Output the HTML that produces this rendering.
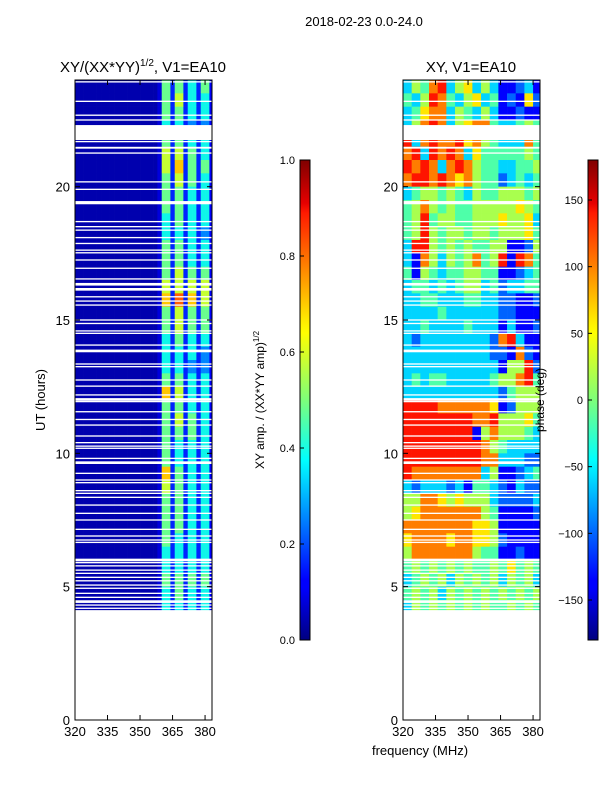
<!DOCTYPE html>
<html><head><meta charset="utf-8"><style>
body{margin:0;background:#fff;width:600px;height:800px;overflow:hidden}
svg{display:block;font-family:"Liberation Sans","DejaVu Sans",sans-serif}
</style></head><body>
<svg id="fig" width="600" height="800" viewBox="0 0 600 800">
<defs>
<linearGradient id="jetg" x1="0" y1="1" x2="0" y2="0">
<stop offset="0" stop-color="#000080"/><stop offset="0.11" stop-color="#0000ff"/><stop offset="0.125" stop-color="#0000ff"/>
<stop offset="0.34" stop-color="#00ddff"/><stop offset="0.375" stop-color="#00ffff"/><stop offset="0.5" stop-color="#7dff7a"/>
<stop offset="0.64" stop-color="#ffff00"/><stop offset="0.66" stop-color="#fff000"/><stop offset="0.89" stop-color="#ff1a00"/>
<stop offset="0.91" stop-color="#e60000"/><stop offset="1" stop-color="#800000"/>
</linearGradient>
<clipPath id="clipL"><rect x="75" y="80" width="137" height="640"/></clipPath>
<clipPath id="clipR"><rect x="403" y="80" width="137" height="640"/></clipPath>
</defs>
<text x="364" y="26" font-size="13" text-anchor="middle">2018-02-23 0.0-24.0</text>
<text x="143" y="72" font-size="15" text-anchor="middle">XY/(XX*YY)<tspan font-size="10" dy="-6">1/2</tspan><tspan dy="6">, V1=EA10</tspan></text>
<text x="471" y="72" font-size="15" text-anchor="middle">XY, V1=EA10</text>
<g id="heatL" clip-path="url(#clipL)"></g>
<g id="heatR" clip-path="url(#clipR)"></g>
<g id="axesL"></g>
<g id="axesR"></g>
<text transform="translate(45,400) rotate(-90)" font-size="13" text-anchor="middle">UT (hours)</text>
<text x="420" y="755" font-size="13" text-anchor="middle">frequency (MHz)</text>
<rect x="300" y="160" width="10" height="480" fill="url(#jetg)" stroke="#000" stroke-width="1"/>
<rect x="588" y="160" width="10" height="480" fill="url(#jetg)" stroke="#000" stroke-width="1"/>
<g id="cb1"></g>
<g id="cb2"></g>
<text transform="translate(264,400) rotate(-90)" font-size="12" text-anchor="middle">XY amp. / (XX*YY amp)<tspan font-size="8" dy="-5">1/2</tspan></text>
<text transform="translate(544,400) rotate(-90)" font-size="12" text-anchor="middle">phase (deg)</text>
</svg>
<script>
const NS="http://www.w3.org/2000/svg";
const xTicks=[320,335,350,365,380];
const yTicks=[0,5,10,15,20];
const cb1Ticks=[0.0,0.2,0.4,0.6,0.8,1.0];
const cb2Ticks=[-150,-100,-50,0,50,100,150];
const rowTop=[24,23.5,23,22.5,22,21.5,21,20.5,20,19.5,19,18.5,18,17.5,17,16.5,16,15.5,15,14.5,14,13.5,13,12.5,12,11.5,11,10.5,10,9.5,9,8.5,8,7.5,7,6.5,6,5.5,5,4.5];
// amplitude band levels (digits 0-9 => value ~d/9) per row: band A,B,C,D
const ampBands=["5545","5644","5544","4433","5544","6654","6755","5654","5544","5544","4544","4443","5544","5544","5655","6666","7876","5655","5655","4544","4443","4433","5544","7644","5544","5654","5554","5444","5444","7544","6544","5544","5544","5544","5444","4444","4444","5555","4544","4444"];
// phase digits (0-9 => -180 + d*40 deg), 16 columns of 4 MHz
const phaseRows=["3547835635311231","4358743563412162","3467735435311211","3578735677433454","8378778675433374","7838787364444454","8787378754433445","7887876754423434","3455454354455545","4575454455555654","4584554455565563","4585455455455564","3885454544551125","3175354574581874","4154344554411234","3443434553423344","3344333443322112","3333433333322111","3343333433313112","3233333333278311","3333333333221721","3333333333315582","3434433333455784","3333333333324555","8888777777612555","8888888877855564","8888888815755543","8888888887543333","8888888887733322","8777777773511234","3233323144321322","5577656555322223","5677777775411112","7777777766511111","6777767766521111","5777777754411211","4545454544546454","3454535454535453","4545354545454545","3545454545445454"];
// flagged (blank) times: [center hour, width hour]
const flags=[[23.93,0.05],[23.2,0.05],[22.68,0.05],[22.5,0.05],[22.03,0.56],[21.69,0.05],[21.46,0.07],[21.26,0.05],[20.18,0.05],[19.9,0.05],[19.4,0.12],[18.69,0.05],[18.5,0.05],[18.37,0.05],[18.09,0.05],[17.87,0.05],[17.62,0.05],[17.52,0.05],[17.25,0.05],[16.94,0.05],[16.54,0.05],[16.34,0.1],[16.15,0.1],[15.87,0.05],[15.71,0.05],[15.56,0.05],[15.0,0.05],[14.87,0.05],[14.59,0.05],[14.5,0.05],[14.06,0.05],[13.84,0.1],[13.35,0.05],[13.25,0.05],[12.75,0.05],[12.52,0.05],[12.19,0.05],[12.02,0.1],[11.94,0.05],[11.56,0.05],[11.27,0.05],[11.06,0.05],[10.65,0.05],[10.4,0.05],[10.27,0.05],[10.19,0.05],[9.81,0.05],[9.65,0.1],[9.25,0.05],[9.0,0.05],[8.9,0.05],[8.6,0.05],[8.5,0.05],[8.35,0.05],[8.06,0.05],[7.75,0.05],[7.5,0.05],[7.15,0.05],[6.9,0.05],[6.75,0.05],[6.66,0.05],[6.0,0.1],[5.9,0.05],[5.78,0.05],[5.62,0.05],[5.5,0.05],[5.35,0.05],[5.22,0.05],[5.06,0.05],[4.94,0.05],[4.75,0.05],[4.6,0.05],[4.44,0.1],[4.31,0.05],[4.19,0.05],[2.06,4.12]];

const fMin=320,fMax=383.2,tMin=0,tMax=24;
function xL(f){return 75+(f-fMin)/(fMax-fMin)*137;}
function xR(f){return 403+(f-fMin)/(fMax-fMin)*137;}
function yT(t){return 720-(t-tMin)/(tMax-tMin)*640;}
function yCb(frac){return 640-frac*480;}
function interp(pts,v){for(let i=1;i<pts.length;i++){if(v<=pts[i][0]){const a=pts[i-1],b=pts[i];return a[1]+(b[1]-a[1])*(v-a[0])/(b[0]-a[0]);}}return pts[pts.length-1][1];}
function jet(v){v=Math.max(0,Math.min(1,v));
 const r=interp([[0,0],[0.35,0],[0.66,1],[0.89,1],[1,0.5]],v);
 const g=interp([[0,0],[0.125,0],[0.375,1],[0.64,1],[0.91,0],[1,0]],v);
 const b=interp([[0,0.5],[0.11,1],[0.34,1],[0.65,0],[1,0]],v);
 return "rgb("+Math.round(r*255)+","+Math.round(g*255)+","+Math.round(b*255)+")";}
function mk(tag,attrs,parent){const e=document.createElementNS(NS,tag);for(const k in attrs)e.setAttribute(k,attrs[k]);parent.appendChild(e);return e;}

const hL=document.getElementById('heatL'),hR=document.getElementById('heatR');
for(let r=0;r<rowTop.length;r++){
 const t1=rowTop[r],t0=t1-0.5,b=ampBands[r];
 for(let c=0;c<32;c++){
  let v;
  if(c<19)v=0.04;else if(c===19)v=0.08;
  else if(c<=21)v=(+b[0]-0.7)/9;else if(c===22)v=0.16;
  else if(c<=24)v=(+b[1]-0.7)/9;else if(c===25)v=0.16;
  else if(c<=27)v=(+b[2]-0.7)/9;else if(c===28)v=0.16;
  else if(c<=30)v=(+b[3]-0.7)/9;else v=0.12;
  const f0=fMin+2*c,f1=f0+2;
  const e=mk('rect',{x:xL(f0),y:yT(t1),width:xL(f1)-xL(f0)+0.3,height:yT(t0)-yT(t1)+0.3,fill:jet(v)},hL);
  
  
 }
 const p=phaseRows[r];
 for(let c=0;c<16;c++){
  const ph=-180+(+p[c])*40;
  const f0=fMin+4*c,f1=f0+4;
  const e=mk('rect',{x:xR(f0),y:yT(t1),width:xR(f1)-xR(f0)+0.3,height:yT(t0)-yT(t1)+0.3,fill:jet((ph+180)/360)},hR);
  
  
 }
}
for(const fl of flags){
 const t1=fl[0]+fl[1]/2,t0=fl[0]-fl[1]/2;
 for(const [g,x0] of [[hL,75],[hR,403]]){
  const e=mk('rect',{x:x0,y:yT(t1),width:137,height:Math.max(1.2,yT(t0)-yT(t1)),fill:'#fff'},g);
  
  
 }
}
function axes(gid,xf,x0){
 const g=document.getElementById(gid);
 const fr=mk('rect',{x:x0,y:80,width:137,height:640,fill:'none',stroke:'#000','stroke-width':1},g);
 
 
 for(const f of xTicks){const x=xf(f);
  mk('line',{x1:x,x2:x,y1:720,y2:715,stroke:'#000'},g);mk('line',{x1:x,x2:x,y1:80,y2:85,stroke:'#000'},g);
  const t=mk('text',{x:x,y:736,'font-size':13,'text-anchor':'middle'},g);t.textContent=f;
  
  }
 for(const h of yTicks){const y=yT(h);
  mk('line',{x1:x0,x2:x0+5,y1:y,y2:y,stroke:'#000'},g);mk('line',{x1:x0+137,x2:x0+132,y1:y,y2:y,stroke:'#000'},g);
  const t=mk('text',{x:x0-5,y:y+5,'font-size':13,'text-anchor':'end'},g);t.textContent=h;
  
  }
}
axes('axesL',xL,75);axes('axesR',xR,403);
const c1=document.getElementById('cb1');
for(const v of cb1Ticks){const y=yCb(v);
 mk('line',{x1:300,x2:304,y1:y,y2:y,stroke:'#000'},c1);
 const t=mk('text',{x:295,y:y+4,'font-size':11,'text-anchor':'end'},c1);t.textContent=v.toFixed(1);
 
 }
const c2=document.getElementById('cb2');
for(const v of cb2Ticks){const y=yCb((v+180)/360);
 mk('line',{x1:588,x2:592,y1:y,y2:y,stroke:'#000'},c2);
 const t=mk('text',{x:583,y:y+4,'font-size':11,'text-anchor':'end'},c2);t.textContent=v<0?'\u2212'+(-v):v;
 
 }
</script>
</body></html>
